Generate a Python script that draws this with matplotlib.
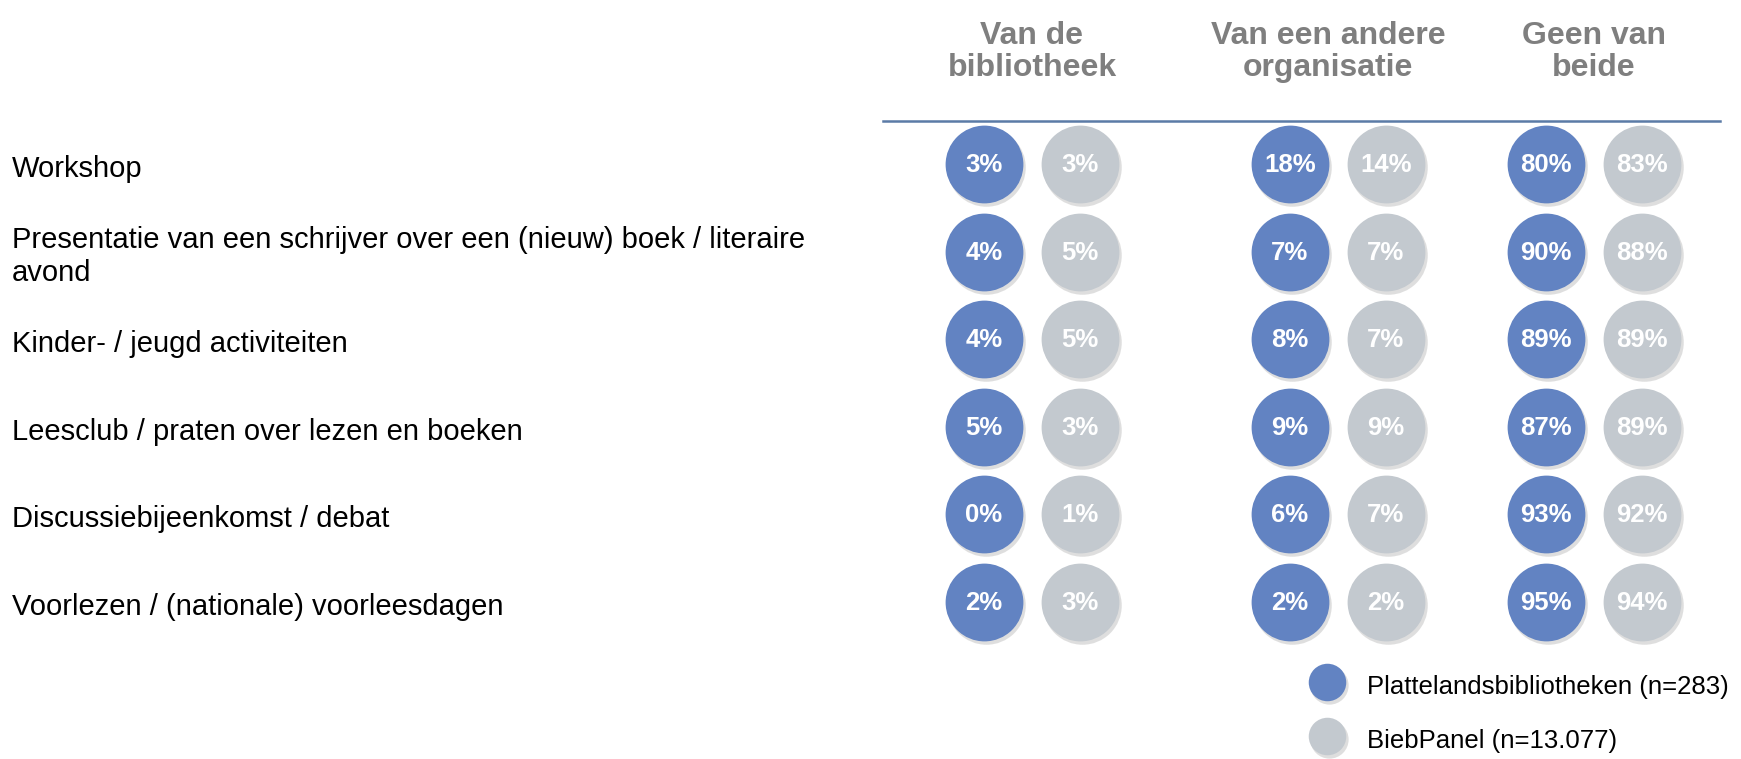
import matplotlib.pyplot as plt
import matplotlib.transforms as mtransforms

plt.rcParams['font.family'] = ['Liberation Sans', 'DejaVu Sans']

# data
categories = ['Workshop',
              'Presentatie van een schrijver over een (nieuw) boek / literaire\navond',
              'Kinder- / jeugd activiteiten',
              'Leesclub / praten over lezen en boeken',
              'Discussiebijeenkomst / debat',
              'Voorlezen / (nationale) voorleesdagen']
groups = ['Van de\nbibliotheek', 'Van een andere\norganisatie', 'Geen van\nbeide']
platteland = [[3, 18, 80], [4, 7, 90], [4, 8, 89], [5, 9, 87], [0, 6, 93], [2, 2, 95]]
biebpanel = [[3, 14, 83], [5, 7, 88], [5, 7, 89], [3, 9, 89], [1, 7, 92], [3, 2, 94]]
series_names = ['Plattelandsbibliotheken (n=283)', 'BiebPanel (n=13.077)']

blue = '#6283c2'
grey = '#c3c9cf'

# layout (pixels)
W, H = 1741, 759
group_x = [984, 1290, 1546]
header_x = [1032, 1328, 1594]
pair_dx = 96
row_y0, row_dy = 164, 87.6
size_big = 56 ** 2
size_leg = 27 ** 2

fig = plt.figure(figsize=(W / 100, H / 100), dpi=100)
ax = fig.add_axes([0, 0, 1, 1])
ax.set_xlim(0, W)
ax.set_ylim(H, 0)
ax.axis('off')

shadow = mtransforms.offset_copy(ax.transData, fig=fig, x=1.5, y=-3, units='dots')

for i, cat in enumerate(categories):
    y = row_y0 + i * row_dy
    ax.text(12, y + 5, cat, ha='left', va='center', fontsize=21, color='black', linespacing=1.25)
    for g, gx in enumerate(group_x):
        for k, (vals, col) in enumerate([(platteland, blue), (biebpanel, grey)]):
            x = gx + k * pair_dx
            ax.scatter([x], [y], s=size_big + 60, color='#7f7f7f', alpha=0.25, lw=0,
                       transform=shadow, zorder=1)
            ax.scatter([x], [y], s=size_big, color=col, lw=0, zorder=2)
            ax.text(x, y + 1, f'{vals[i][g]}%', ha='center', va='center', fontsize=18.5,
                    fontweight='bold', color='white', zorder=3)

for g, hx in enumerate(header_x):
    ax.text(hx, 52, groups[g], ha='center', va='center', fontsize=23,
            fontweight='bold', color='#7f7f7f', linespacing=1.05)

ax.plot([883, 1720], [121, 121], color='#5b7ba6', lw=1.8)

# legend
leg_x = 1327
for k, (name, col) in enumerate(zip(series_names, [blue, grey])):
    y = 682 + k * 54
    ax.scatter([leg_x], [y], s=size_leg + 30, color='#7f7f7f', alpha=0.25, lw=0,
               transform=shadow, zorder=1)
    ax.scatter([leg_x], [y], s=size_leg, color=col, lw=0, zorder=2)
    ax.text(leg_x + 40, y + 5, name, ha='left', va='center', fontsize=18.5, color='black')

fig.savefig('out.png', dpi=100)
